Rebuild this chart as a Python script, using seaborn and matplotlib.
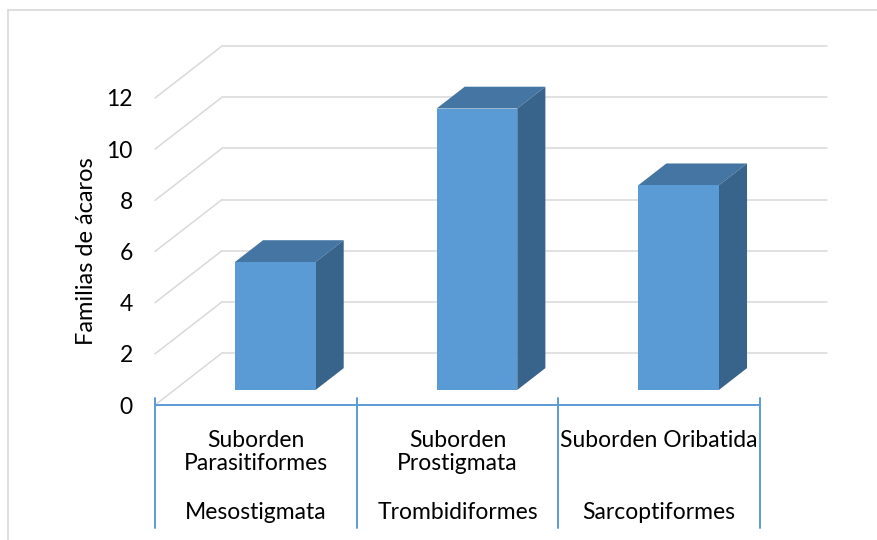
import matplotlib
matplotlib.use("Agg")
import matplotlib.pyplot as plt
from matplotlib.patches import Polygon
from matplotlib.lines import Line2D
import seaborn as sns
import pandas as pd

# data
suborders = ["Suborden\nParasitiformes", "Suborden\nProstigmata", "Suborden Oribatida"]
orders = ["Mesostigmata", "Trombidiformes", "Sarcoptiformes"]
families = [5, 11, 8]
y_ticks = [0, 2, 4, 6, 8, 10, 12]

FRONT = "#5B9BD5"
TOP = "#4575A2"
SIDE = "#38638A"
GRID = "#D9D9D9"
FS = 16.5

# 3D look: full floor depth in data units, bar placed in the middle of it
DEPTH_X, DEPTH_Y = 0.332, 2.03
BAR_T0, BAR_T1 = 0.29, 0.71

sns.set_theme(style="white")
plt.rcParams["font.family"] = ["Lato", "DejaVu Sans"]

df = pd.DataFrame({"cat": suborders, "val": families})

fig = plt.figure(figsize=(8.78, 5.40), dpi=100)
ax = fig.add_axes([155 / 878, 135 / 540, 605 / 878, 307 / 540])

sns.barplot(data=df, x="cat", y="val", color=FRONT, width=0.4,
            saturation=1, edgecolor="none", ax=ax, zorder=3)
ax.set_xlim(-0.5, 2.5)
ax.set_ylim(0, 12)

# back wall gridlines + diagonals on the left side wall
for v in y_ticks:
    ax.add_line(Line2D([-0.5 + DEPTH_X, 2.5 + DEPTH_X], [v + DEPTH_Y, v + DEPTH_Y],
                       color=GRID, lw=1.1, clip_on=False, zorder=1))
    ax.add_line(Line2D([-0.5, -0.5 + DEPTH_X], [v, v + DEPTH_Y],
                       color=GRID, lw=1.1, clip_on=False, zorder=1))

# push bars back into the box and add top/side faces
bdx = (BAR_T1 - BAR_T0) * DEPTH_X
bdy = (BAR_T1 - BAR_T0) * DEPTH_Y
for p in ax.patches[:len(families)]:
    p.set_x(p.get_x() + BAR_T0 * DEPTH_X)
    p.set_y(p.get_y() + BAR_T0 * DEPTH_Y)
    x0, y0, w, h = p.get_x(), p.get_y(), p.get_width(), p.get_height()
    top = Polygon([(x0, y0 + h), (x0 + w, y0 + h), (x0 + w + bdx, y0 + h + bdy),
                   (x0 + bdx, y0 + h + bdy)], closed=True, fc=TOP, ec="none",
                  zorder=2.5, clip_on=False)
    side = Polygon([(x0 + w, y0), (x0 + w + bdx, y0 + bdy), (x0 + w + bdx, y0 + h + bdy),
                    (x0 + w, y0 + h)], closed=True, fc=SIDE, ec="none",
                   zorder=2.5, clip_on=False)
    ax.add_patch(top)
    ax.add_patch(side)
    p.set_clip_on(False)

sns.despine(ax=ax, left=True)
ax.spines["bottom"].set_color(FRONT)
ax.spines["bottom"].set_linewidth(1.4)

ax.set_yticks(y_ticks)
ax.tick_params(axis="y", length=0, pad=16, labelsize=FS, labelcolor="black")
ax.set_ylabel("Familias de ácaros", fontsize=17, labelpad=7, color="black")

ax.set_xticks(range(len(suborders)))
ax.set_xticklabels(suborders, fontsize=FS, color="black", linespacing=1.1)
ax.tick_params(axis="x", direction="in", length=4.5, width=1.4, color=FRONT, pad=18)
ax.set_xlabel("")

# category dividers and second row of labels
for b in [-0.5, 0.5, 1.5, 2.5]:
    ax.add_line(Line2D([b, b], [0.28, -4.8], color=FRONT, lw=1.4, clip_on=False, zorder=4))
for i, o in enumerate(orders):
    ax.text(i, -4.22, o, ha="center", va="center", fontsize=FS, color="black")

# chart area border (only top and left visible)
fig.add_artist(Line2D([8 / 878, 8 / 878], [0, 1 - 10 / 540], color=GRID, lw=1.2))
fig.add_artist(Line2D([8 / 878, 1], [1 - 10 / 540, 1 - 10 / 540], color=GRID, lw=1.2))

fig.savefig("out.png", dpi=100)
